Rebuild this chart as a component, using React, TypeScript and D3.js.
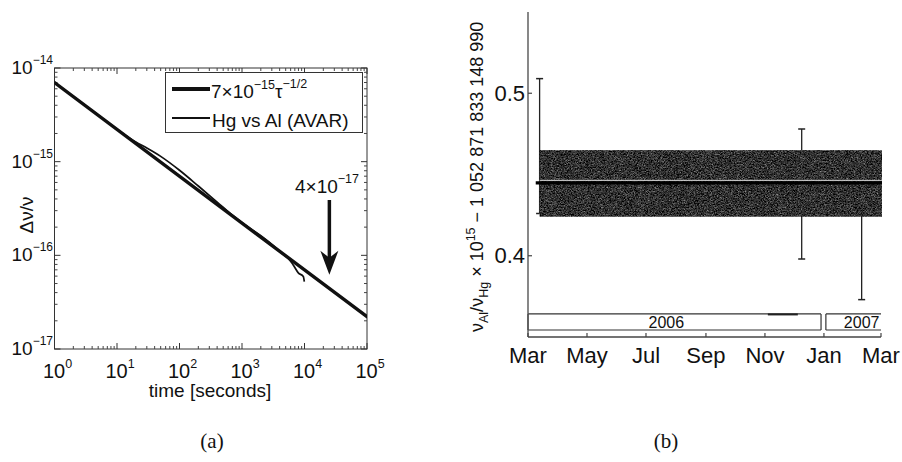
import React from 'react';
import * as d3 from 'd3';

// ---- panel (a): stability vs averaging time ----
const fitTau = [1, 100000];
const fitSigma = [7e-15, 2.21e-17];

const avarTau = [1, 2, 5, 10, 20, 30, 50, 100, 200, 400, 700, 1000, 2000, 3000, 4000, 5000, 5500, 6600, 7960, 9570, 9930];
const avarSigma = [
  7.0e-15, 4.95e-15, 3.13e-15, 2.21e-15, 1.62e-15, 1.4e-15, 1.14e-15, 8.1e-16, 5.5e-16, 3.7e-16,
  2.68e-16, 2.23e-16, 1.62e-16, 1.31e-16, 1.1e-16, 9.8e-17, 9.3e-17, 7.9e-17, 6.5e-17, 5.93e-17, 5.24e-17,
];

const xDecades = [0, 1, 2, 3, 4, 5];
const yDecades = [-17, -16, -15, -14];
const arrowTau = 25000;
const arrowFrom = 3.9e-16;
const arrowTo = 6.2e-17;

// ---- panel (b): frequency ratio over time ----
const monthLabels = ['Mar', 'May', 'Jul', 'Sep', 'Nov', 'Jan', 'Mar'];
const monthDates = [
  new Date(2006, 2, 1), new Date(2006, 4, 1), new Date(2006, 6, 1), new Date(2006, 8, 1),
  new Date(2006, 10, 1), new Date(2007, 0, 1), new Date(2007, 2, 1),
];
const ratioTicks = [0.4, 0.5];

const pointDates = [new Date(2006, 2, 13), new Date(2006, 11, 9), new Date(2007, 1, 9)];
const pointValues = [0.4675, 0.438, 0.418];
const pointErrors = [0.0415, 0.04, 0.045];

const bandStart = new Date(2006, 2, 13);
const meanStart = new Date(2006, 2, 9);
const bandEnd = new Date(2007, 2, 2);
const bandLow = 0.424;
const bandHigh = 0.465;
const meanValue = 0.4448;

const years = ['2006', '2007'];
const yearStarts = [new Date(2006, 2, 1), new Date(2007, 0, 3)];
const yearEnds = [new Date(2006, 11, 29), new Date(2007, 2, 1)];
const yearLabelDates = [new Date(2006, 6, 22), new Date(2007, 1, 9)];
const yearBoxTop = 0.3642;
const yearBoxBottom = 0.3543;
const markStart = new Date(2006, 10, 4);
const markEnd = new Date(2006, 11, 5);

const SANS = '"Liberation Sans", Arial, Helvetica, sans-serif';
const SERIF = '"Liberation Serif", "Times New Roman", serif';
const INK = '#111';

export default function App() {
  // scales for (a)
  const xA = d3.scaleLog().domain([1, 1e5]).range([54.5, 367]);
  const yA = d3.scaleLog().domain([1e-17, 1e-14]).range([349, 68]);
  const [ax0, ax1] = xA.range();
  const [ay0, ay1] = yA.range();

  const lineA = d3.line<number>()
    .x((_, i) => xA(avarTau[i]))
    .y((d) => yA(d))
    .curve(d3.curveMonotoneX);

  const minorX: number[] = [];
  xDecades.slice(0, -1).forEach((d) => d3.range(2, 10).forEach((k) => minorX.push(k * 10 ** d)));
  const minorY: number[] = [];
  yDecades.slice(0, -1).forEach((d) => d3.range(2, 10).forEach((k) => minorY.push(k * 10 ** d)));

  // scales for (b)
  const xB = d3.scaleTime().domain([monthDates[0], monthDates[monthDates.length - 1]]).range([528, 881]);
  const yB = d3.scaleLinear().domain([0.35, 0.55]).range([337, 12]);
  const bx0 = xB.range()[0];
  const by0 = yB.range()[0];

  const ax = xA(arrowTau);
  const tipY = yA(arrowTo);

  return (
    <svg width={902} height={462} style={{ position: 'absolute', left: 0, top: 0, background: '#fff' }}>
      <defs>
        <filter id="grain" x="0" y="0" width="1" height="1" colorInterpolationFilters="sRGB">
          <feTurbulence type="fractalNoise" baseFrequency="0.7 1.3" numOctaves={2} seed={4} result="n" />
          <feColorMatrix in="n" type="matrix"
            values="0.33 0.33 0.33 0 0  0.33 0.33 0.33 0 0  0.33 0.33 0.33 0 0  0 0 0 0 1" result="g" />
          <feComponentTransfer in="g" result="d">
            <feFuncR type="linear" slope={1.5} intercept={-0.55} />
            <feFuncG type="linear" slope={1.5} intercept={-0.55} />
            <feFuncB type="linear" slope={1.5} intercept={-0.55} />
          </feComponentTransfer>
          <feComposite in="d" in2="SourceGraphic" operator="in" />
        </filter>
        <clipPath id="clipA">
          <rect x={ax0} y={ay1} width={ax1 - ax0} height={ay0 - ay1} />
        </clipPath>
      </defs>

      {/* ================= panel (a) ================= */}
      <g>
        <rect x={ax0} y={ay1} width={ax1 - ax0} height={ay0 - ay1} fill="none" stroke="#333" strokeWidth={1} />
        {/* x ticks */}
        {xDecades.map((d) => {
          const x = xA(10 ** d);
          return (
            <g key={'xm' + d}>
              <line x1={x} x2={x} y1={ay0} y2={ay0 - 6} stroke="#333" />
              <line x1={x} x2={x} y1={ay1} y2={ay1 + 6} stroke="#333" />
              <text x={x + 3} y={378} fontSize={20} fontFamily={SANS} textAnchor="middle" fill={INK}>
                10<tspan dy={-10} fontSize={12.5}>{d}</tspan>
              </text>
            </g>
          );
        })}
        {minorX.map((t, i) => (
          <g key={'xn' + i}>
            <line x1={xA(t)} x2={xA(t)} y1={ay0} y2={ay0 - 3} stroke="#444" />
            <line x1={xA(t)} x2={xA(t)} y1={ay1} y2={ay1 + 3} stroke="#444" />
          </g>
        ))}
        {/* y ticks */}
        {yDecades.map((d) => {
          const y = yA(10 ** d);
          return (
            <g key={'ym' + d}>
              <line x1={ax0} x2={ax0 + 6} y1={y} y2={y} stroke="#333" />
              <line x1={ax1} x2={ax1 - 6} y1={y} y2={y} stroke="#333" />
              <text x={53} y={y + 6} fontSize={19} fontFamily={SANS} textAnchor="end" fill={INK}>
                10<tspan dy={-10} fontSize={12}>{'\u2212' + Math.abs(d)}</tspan>
              </text>
            </g>
          );
        })}
        {minorY.map((v, i) => (
          <g key={'yn' + i}>
            <line x1={ax0} x2={ax0 + 3} y1={yA(v)} y2={yA(v)} stroke="#444" />
            <line x1={ax1} x2={ax1 - 3} y1={yA(v)} y2={yA(v)} stroke="#444" />
          </g>
        ))}

        <g clipPath="url(#clipA)">
          <line x1={xA(fitTau[0])} y1={yA(fitSigma[0])} x2={xA(fitTau[1])} y2={yA(fitSigma[1])}
            stroke={INK} strokeWidth={3.4} strokeLinecap="round" />
          <path d={lineA(avarSigma) || ''} fill="none" stroke={INK} strokeWidth={1.7} strokeLinejoin="round" />
        </g>

        {/* arrow annotation */}
        <line x1={ax} x2={ax} y1={yA(arrowFrom)} y2={tipY - 14} stroke={INK} strokeWidth={3.5} />
        <polygon points={`${ax},${tipY} ${ax - 9},${tipY - 24} ${ax},${tipY - 17} ${ax + 9},${tipY - 24}`} fill={INK} />
        <text x={295} y={193} fontSize={19} fontFamily={SANS} fill={INK}>
          4×10<tspan dy={-10} fontSize={12.5}>{'\u221217'}</tspan>
        </text>

        {/* legend */}
        <rect x={165.5} y={72.5} width={197} height={60} fill="#fff" stroke="#333" />
        <line x1={172} x2={210} y1={89} y2={89} stroke={INK} strokeWidth={4} />
        <text x={211} y={98} fontSize={19} fontFamily={SANS} fill={INK}>
          7×10<tspan dy={-9} fontSize={12.5}>{'\u221215'}</tspan>
          <tspan dy={9} fontSize={19}>τ</tspan>
          <tspan dy={-10} fontSize={12.5}>{'\u22121/2'}</tspan>
        </text>
        <line x1={172} x2={210} y1={118} y2={118} stroke={INK} strokeWidth={2} />
        <text x={212} y={127} fontSize={19} fontFamily={SANS} fill={INK}>Hg vs Al (AVAR)</text>

        {/* axis labels */}
        <text x={210} y={397} fontSize={19} fontFamily={SANS} textAnchor="middle" fill={INK}>time [seconds]</text>
        <text transform="translate(33,215) rotate(-90)" fontSize={19} fontFamily={SANS} textAnchor="middle" fill={INK}>Δν/ν</text>
        <text x={212} y={448} fontSize={21} fontFamily={SERIF} textAnchor="middle" fill={INK}>(a)</text>
      </g>

      {/* ================= panel (b) ================= */}
      <g>
        {/* error bars (drawn under the band) */}
        {pointDates.map((d, i) => {
          const x = xB(d);
          const top = yB(pointValues[i] + pointErrors[i]);
          const bot = yB(pointValues[i] - pointErrors[i]);
          return (
            <g key={'eb' + i} stroke="#222">
              <line x1={x} x2={x} y1={top} y2={bot} strokeWidth={1.3} />
              <line x1={x - 3.5} x2={x + 3.5} y1={top} y2={top} strokeWidth={1.5} />
              <line x1={x - 3.5} x2={x + 3.5} y1={bot} y2={bot} strokeWidth={1.5} />
            </g>
          );
        })}

        {/* shaded uncertainty band */}
        <rect x={xB(bandStart)} y={yB(bandHigh)} width={xB(bandEnd) - xB(bandStart)} height={yB(bandLow) - yB(bandHigh)}
          fill="#222" filter="url(#grain)" />
        <line x1={xB(meanStart)} x2={xB(bandEnd)} y1={yB(meanValue)} y2={yB(meanValue)} stroke="#000" strokeWidth={3.2} />
        <line x1={xB(bandStart)} x2={xB(bandEnd)} y1={yB(meanValue) - 2.6} y2={yB(meanValue) - 2.6} stroke="#d8d8d8" strokeWidth={1} />

        {/* year boxes */}
        {years.map((yr, i) => {
          const x1 = xB(yearStarts[i]);
          const x2 = xB(yearEnds[i]);
          const t = yB(yearBoxTop);
          const b = yB(yearBoxBottom);
          return (
            <g key={yr}>
              <line x1={x1} x2={x2} y1={t} y2={t} stroke="#333" strokeWidth={1.2} />
              <line x1={x1} x2={x2} y1={b} y2={b} stroke="#333" strokeWidth={1.2} />
              <line x1={x1} x2={x1} y1={t} y2={b} stroke="#333" strokeWidth={1.2} />
              {i === 0 && <line x1={x2} x2={x2} y1={t} y2={b} stroke="#333" strokeWidth={1.2} />}
              <text x={xB(yearLabelDates[i])} y={b - 2.5} fontSize={16} fontFamily={SANS} textAnchor="middle" fill={INK}>{yr}</text>
            </g>
          );
        })}
        <line x1={xB(markStart)} x2={xB(markEnd)} y1={yB(yearBoxTop) + 0.5} y2={yB(yearBoxTop) + 0.5} stroke="#222" strokeWidth={2} />

        {/* axes */}
        <line x1={bx0} x2={bx0} y1={yB.range()[1]} y2={by0} stroke="#555" strokeWidth={1.4} />
        <line x1={bx0} x2={xB.range()[1]} y1={by0} y2={by0} stroke="#444" strokeWidth={1.4} />
        {monthDates.map((d, i) => (
          <g key={'mt' + i}>
            <line x1={xB(d)} x2={xB(d)} y1={by0} y2={by0 - 4} stroke="#444" strokeWidth={1.2} />
            <text x={xB(d)} y={363} fontSize={22} fontFamily={SANS} textAnchor="middle" fill={INK}>{monthLabels[i]}</text>
          </g>
        ))}
        {ratioTicks.map((v) => (
          <g key={'rt' + v}>
            <line x1={bx0} x2={bx0 + 4} y1={yB(v)} y2={yB(v)} stroke="#444" strokeWidth={1.2} />
            <text x={525} y={yB(v) + 7.5} fontSize={22} fontFamily={SANS} textAnchor="end" fill={INK}>{v.toFixed(1)}</text>
          </g>
        ))}

        <text transform="translate(483,332) rotate(-90)" fontSize={18} fontFamily={SANS} fill={INK}>
          ν<tspan dy={5} fontSize={12.5}>Al</tspan>
          <tspan dy={-5} fontSize={18}>/ν</tspan>
          <tspan dy={5} fontSize={12.5}>Hg</tspan>
          <tspan dy={-5} fontSize={18}> × 10</tspan>
          <tspan dy={-8} fontSize={12.5}>15</tspan>
          <tspan dy={8} fontSize={18}> − 1 052 871 833 148 990</tspan>
        </text>

        <text x={666} y={448} fontSize={21} fontFamily={SERIF} textAnchor="middle" fill={INK}>(b)</text>
      </g>
    </svg>
  );
}
